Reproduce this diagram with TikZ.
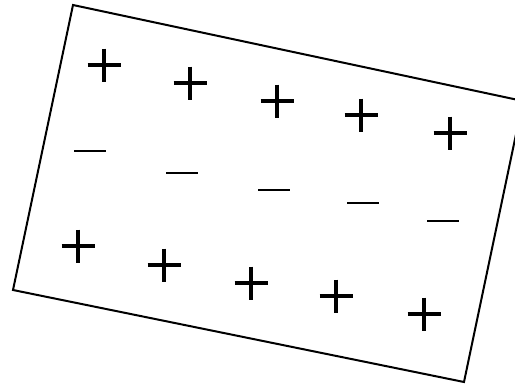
\documentclass[tikz,border=0pt]{standalone}
\begin{document}
\begin{tikzpicture}[x=1pt,y=-1pt,
  plus/.pic={\draw[line width=3.2pt] (-16.5,0) -- (16.5,0) (0,-16.5) -- (0,16.5);},
  minus/.pic={\draw[line width=2.6pt] (-16,0) -- (16,0);},
  frame/.style={line width=2pt, line join=miter}]
\useasboundingbox (0,0) rectangle (515,386);
\begin{scope}
\clip (0,0) rectangle (515,386);
\coordinate (tl) at (73,5);
\coordinate (tr) at (523,101);
\coordinate (br) at (464,382);
\coordinate (bl) at (13,290);
\draw[frame] (tl) -- (tr) -- (br) -- (bl) -- cycle;
\end{scope}
\foreach \x/\y in {104/65,190/83,277/101,361/115,450/133,78/246,164/265,251/283,336/296,424/314}
  \pic at (\x,\y) {plus};
\foreach \x/\y in {90/151,182/173,274/190,363/203,443/221}
  \pic at (\x,\y) {minus};
\end{tikzpicture}
\end{document}
